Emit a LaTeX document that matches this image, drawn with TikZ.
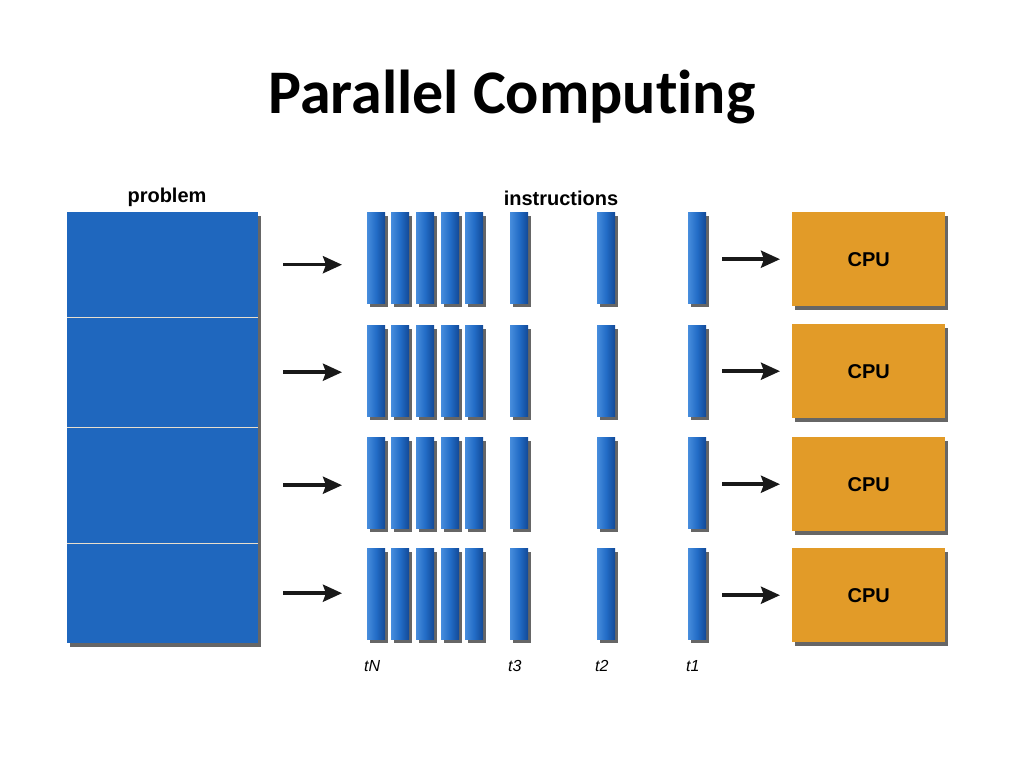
\documentclass[tikz,border=0pt]{standalone}
\usepackage{fontspec}
\setmainfont[Ligatures=NoCommon]{Carlito}
\newfontfamily\arialf{Liberation Sans}
\usetikzlibrary{shadows,arrows.meta}
\definecolor{probblue}{RGB}{31,103,190}
\definecolor{barmid}{RGB}{34,108,198}
\definecolor{barlight}{RGB}{70,140,220}
\definecolor{bardark}{RGB}{18,72,150}
\definecolor{cpuorange}{RGB}{226,155,40}
\definecolor{divline}{RGB}{232,222,205}
\tikzset{
  shad/.style={drop shadow={shadow xshift=2.5pt,shadow yshift=-3.5pt,opacity=0.7,fill=black!85}},
  probbox/.style={fill=probblue,inner sep=0,anchor=north west,shad},
  rowbox/.style={inner sep=0,anchor=north west,minimum width=191pt},
  bar/.style={inner sep=0,anchor=north west,minimum width=18pt,minimum height=91pt,
    left color=barlight,right color=bardark,middle color=barmid,shad},
  cpu/.style={fill=cpuorange,inner sep=0,anchor=north west,minimum width=153pt,minimum height=94pt,
    font=\arialf\bfseries\fontsize{20}{24}\selectfont,shad},
  lbl/.style={font=\arialf\bfseries\fontsize{20}{24}\selectfont,inner sep=0},
  tlbl/.style={font=\arialf\itshape\fontsize{16}{18}\selectfont,inner sep=0,anchor=west},
  arr/.style={line width=3.5pt,-{Stealth[length=19pt,width=17pt,inset=3pt]},black!90},
  divider/.style={line width=1.2pt,divline}
}
\begin{document}
\begin{tikzpicture}[x=1pt,y=-1pt]
\useasboundingbox[fill=white] (0,0) rectangle (1024,768);
\node[font=\bfseries\fontsize{62}{72}\selectfont,inner sep=0] (title) at (512,97) {Parallel Computing};
\node[lbl] (problbl) at (167,197) {problem};
\node[lbl] (instrlbl) at (561,198) {instructions};
\node[probbox,minimum width=191pt,minimum height=431pt] (prob) at (67,212) {};
\node[rowbox,minimum height=105pt] (p1) at (67,212) {};
\node[rowbox,minimum height=110pt] (p2) at (67,317) {};
\node[rowbox,minimum height=116pt] (p3) at (67,427) {};
\node[rowbox,minimum height=100pt] (p4) at (67,543) {};
\draw[divider] (p1.south west) -- (p1.south east);
\draw[divider] (p2.south west) -- (p2.south east);
\draw[divider] (p3.south west) -- (p3.south east);
\foreach \r/\y/\cy in {1/212/212,2/325/324,3/437/437,4/548/548}{
  \foreach \i/\x in {1/367,2/391,3/416,4/441,5/465,6/510,7/597,8/688}{
    \node[bar] (b\i-\r) at (\x,\y) {};
  }
  \node[cpu] (cpu\r) at (792,\cy) {CPU};
  \draw[arr,shorten <=25pt,shorten >=25pt] (p\r.east) -- (p\r.east -| b1-\r.west);
  \draw[arr,shorten <=16pt,shorten >=12pt] (b8-\r.east |- cpu\r.west) -- (cpu\r.west);
}
\node[tlbl] (tN) at (364,666) {tN};
\node[tlbl] (t3) at (508,666) {t3};
\node[tlbl] (t2) at (595,666) {t2};
\node[tlbl] (t1) at (686,666) {t1};
\end{tikzpicture}
\end{document}
